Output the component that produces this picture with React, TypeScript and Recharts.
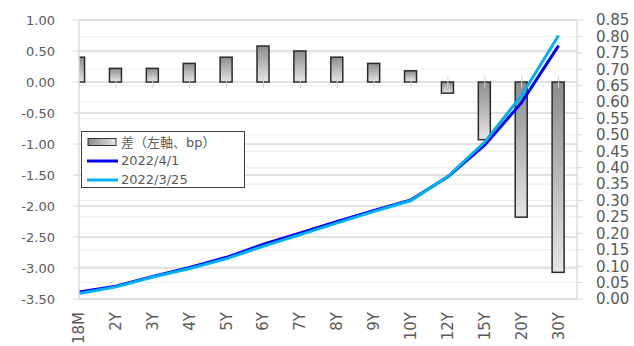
import React from "react";
import {
  ComposedChart,
  Bar,
  Line,
  Scatter,
  XAxis,
  YAxis,
  CartesianGrid,
  Legend,
} from "recharts";

const categories = ["18M", "2Y", "3Y", "4Y", "5Y", "6Y", "7Y", "8Y", "9Y", "10Y", "12Y", "15Y", "20Y", "30Y"];
const diffBp = [0.4, 0.22, 0.22, 0.3, 0.4, 0.58, 0.5, 0.4, 0.3, 0.18, -0.18, -0.93, -2.18, -3.07];
const yieldApr1 = [0.021, 0.039, 0.069, 0.096, 0.127, 0.167, 0.201, 0.236, 0.27, 0.302, 0.372, 0.469, 0.599, 0.772];
const yieldMar25 = [0.017, 0.037, 0.067, 0.093, 0.123, 0.161, 0.196, 0.232, 0.267, 0.3, 0.374, 0.478, 0.621, 0.803];
const leftTicks = [1, 0.5, 0, -0.5, -1, -1.5, -2, -2.5, -3, -3.5];
const rightTicks = [0, 0.05, 0.1, 0.15, 0.2, 0.25, 0.3, 0.35, 0.4, 0.45, 0.5, 0.55, 0.6, 0.65, 0.7, 0.75, 0.8, 0.85];
const seriesNames = ["差（左軸、bp）", "2022/4/1", "2022/3/25"];
const xIndexTicks = categories.map((_, i) => i);

const data = categories.map((c, i) => ({
  idx: i,
  cat: c,
  diff: diffBp[i],
  apr1: yieldApr1[i],
  mar25: yieldMar25[i],
  zero: 0,
}));

const FONT = '"DejaVu Sans", "Noto Sans CJK JP", sans-serif';
const TEXT = "#595959";

const XTick = (props: any) => {
  const { x, y, payload } = props;
  return (
    <text
      x={x}
      y={y}
      transform={`rotate(-90, ${x}, ${y})`}
      textAnchor="end"
      dominantBaseline="central"
      fill={TEXT}
      fontSize={15}
      fontFamily={FONT}
    >
      {categories[payload.value]}
    </text>
  );
};

const ZeroTick = (props: any) => {
  const { cx, cy } = props;
  return <line x1={cx} x2={cx} y1={cy - 6} y2={cy + 6} stroke="#d4d4d4" strokeWidth={1} />;
};

const BarShape = (props: any) => {
  const { x, y, width, height } = props;
  const top = height < 0 ? y + height : y;
  const h = Math.abs(height);
  return (
    <rect
      x={x}
      y={top}
      width={width}
      height={h}
      fill="url(#barGrad)"
      stroke="#2b2b2b"
      strokeWidth={1.5}
    />
  );
};

const LegendBox = (props: any) => {
  const items = (props.payload || [])
    .filter((p: any) => p.type !== "none")
    .slice()
    .sort((a: any, b: any) => seriesNames.indexOf(a.value) - seriesNames.indexOf(b.value));
  return (
    <div
      style={{
        width: 164,
        height: 57,
        boxSizing: "border-box",
        border: "1px solid #404040",
        background: "#fff",
        fontFamily: FONT,
        fontSize: 13,
        color: TEXT,
        paddingLeft: 4,
      }}
    >
      {items.map((p: any, i: number) => (
        <div key={i} style={{ height: 19, display: "flex", alignItems: "center" }}>
          <svg width={33} height={10} style={{ display: "block" }}>
            {p.type === "rect" ? (
              <rect x={2} y={1.5} width={28} height={7} fill="url(#legGrad)" stroke="#333" strokeWidth={1} />
            ) : (
              <line x1={1} x2={32} y1={5} y2={5} stroke={p.color} strokeWidth={3} />
            )}
          </svg>
          <span style={{ marginLeft: 2, whiteSpace: "nowrap" }}>{p.value}</span>
        </div>
      ))}
    </div>
  );
};

export default function App() {
  return (
    <div style={{ position: "absolute", left: 0, top: 0, width: 634, height: 346, background: "#fff" }}>
      <svg width={0} height={0} style={{ position: "absolute" }}>
        <defs>
          <linearGradient id="legGrad" x1="0" y1="0" x2="1" y2="0">
            <stop offset="0%" stopColor="#8c8c8c" />
            <stop offset="100%" stopColor="#e6e6e6" />
          </linearGradient>
        </defs>
      </svg>
      <ComposedChart
        width={634}
        height={346}
        data={data}
        margin={{ top: 20, right: 0, bottom: 0, left: 19 }}
        style={{ fontFamily: FONT }}
      >
        <defs>
          <linearGradient id="barGrad" x1="0" y1="0" x2="0" y2="1">
            <stop offset="0%" stopColor="#8c8c8c" />
            <stop offset="100%" stopColor="#e6e6e6" />
          </linearGradient>
        </defs>
        <CartesianGrid yAxisId="right" vertical={false} stroke="#eeeeee" strokeWidth={1} />
        <CartesianGrid yAxisId="left" vertical={false} stroke="#d9d9d9" strokeWidth={1.3} />
        <XAxis
          dataKey="idx"
          type="number"
          domain={[0, 13.5]}
          ticks={xIndexTicks}
          allowDataOverflow
          height={47}
          tickLine={false}
          tickMargin={7}
          axisLine={{ stroke: "#d9d9d9", strokeWidth: 1.3 }}
          tick={<XTick />}
          interval={0}
        />
        <YAxis
          yAxisId="left"
          orientation="left"
          width={60}
          domain={[-3.5, 1]}
          ticks={leftTicks}
          allowDataOverflow
          tickFormatter={(v: number) => v.toFixed(2)}
          tick={{ fill: TEXT, fontSize: 13, fontFamily: FONT }}
          tickLine={{ stroke: "#d9d9d9" }}
          tickSize={6}
          tickMargin={18}
          axisLine={{ stroke: "#d9d9d9", strokeWidth: 1.3 }}
          interval={0}
        />
        <YAxis
          yAxisId="right"
          orientation="right"
          width={57}
          domain={[0, 0.85]}
          ticks={rightTicks}
          allowDataOverflow
          tickFormatter={(v: number) => v.toFixed(2)}
          tick={{ fill: TEXT, fontSize: 15, fontFamily: FONT }}
          tickLine={{ stroke: "#d9d9d9" }}
          tickSize={6}
          tickMargin={13}
          axisLine={{ stroke: "#d9d9d9", strokeWidth: 1.3 }}
          interval={0}
        />
        <Bar
          yAxisId="left"
          dataKey="diff"
          name={seriesNames[0]}
          barSize={12}
          fill="#b0b0b0"
          shape={<BarShape />}
          legendType="rect"
          isAnimationActive={false}
        />
        <Scatter
          yAxisId="left"
          dataKey="zero"
          shape={<ZeroTick />}
          legendType="none"
          isAnimationActive={false}
        />
        <Line
          yAxisId="right"
          dataKey="apr1"
          name={seriesNames[1]}
          stroke="#0000ff"
          strokeWidth={3}
          dot={false}
          legendType="line"
          isAnimationActive={false}
        />
        <Line
          yAxisId="right"
          dataKey="mar25"
          name={seriesNames[2]}
          stroke="#00b0f0"
          strokeWidth={3}
          dot={false}
          legendType="line"
          isAnimationActive={false}
        />
        <Legend
          layout="vertical"
          align="center"
          verticalAlign="middle"
          content={<LegendBox />}
          wrapperStyle={{ position: "absolute", left: 81, top: 131, width: 164, height: 57 }}
        />
      </ComposedChart>
    </div>
  );
}
